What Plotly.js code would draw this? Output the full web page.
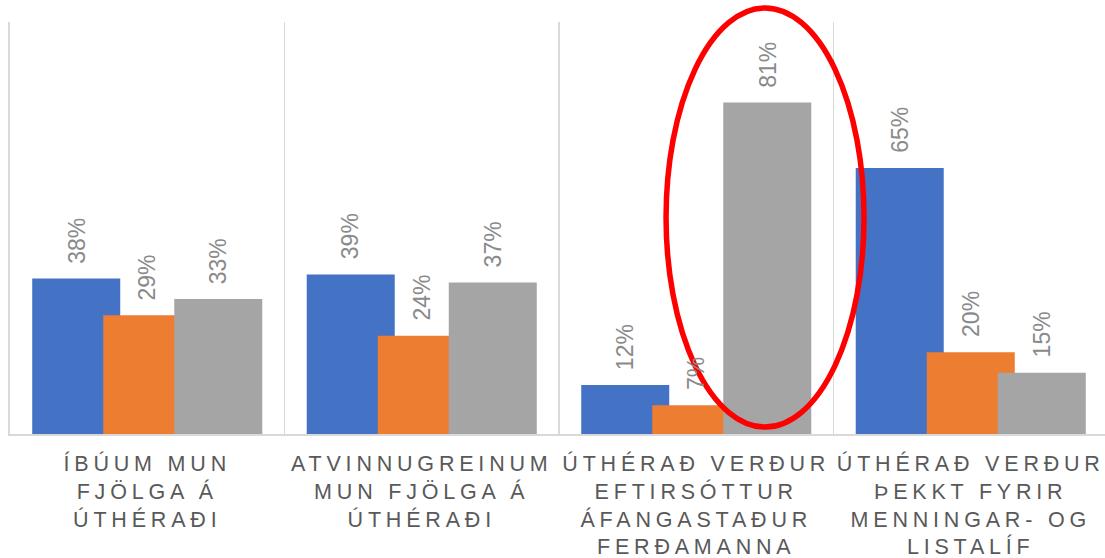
<!DOCTYPE html>
<html>
<head>
<meta charset="utf-8">
<script src="https://cdn.plot.ly/plotly-3.0.1.min.js"></script>
<style>
  html, body { margin: 0; padding: 0; background: #ffffff; overflow: hidden; }
  #chart { width: 1108px; height: 558px; }
  .xtick text { letter-spacing: 4.8px; }
</style>
</head>
<body>
<div id="chart"></div>
<script>
// ---- data ----
const categories = [
  "ÍBÚUM MUN<br>FJÖLGA Á<br>ÚTHÉRAÐI",
  "ATVINNUGREINUM<br>MUN FJÖLGA Á<br>ÚTHÉRAÐI",
  "ÚTHÉRAÐ VERÐUR<br>EFTIRSÓTTUR<br>ÁFANGASTAÐUR<br>FERÐAMANNA",
  "ÚTHÉRAÐ VERÐUR<br>ÞEKKT FYRIR<br>MENNINGAR- OG<br>LISTALÍF"
];
const seriesBlue = [38, 39, 12, 65];
const seriesOrange = [29, 24, 7, 20];
const seriesGray = [33, 37, 81, 15];

// ---- styling ----
const colors = ["#4472C4", "#ED7D31", "#A5A5A5"];
const allSeries = [seriesBlue, seriesOrange, seriesGray];
const barWidth = 0.3206;
const step = 0.2587;
const centers = [-step, 0, step];
const labelFont = { family: "Liberation Sans, Arial, sans-serif", size: 23, color: "#8a8a8a" };

const traces = allSeries.map((vals, i) => ({
  type: "bar",
  x: categories,
  y: vals,
  width: barWidth,
  offset: centers[i] - barWidth / 2,
  marker: { color: colors[i], line: { width: 0 } },
  hoverinfo: "skip",
  showlegend: false
}));

const annotations = [];
allSeries.forEach((vals, i) => {
  vals.forEach((v, j) => {
    annotations.push({
      x: j + centers[i],
      y: v,
      xref: "x",
      yref: "y",
      text: v + "%",
      textangle: -90,
      showarrow: false,
      xanchor: "center",
      yanchor: "bottom",
      yshift: 13,
      font: labelFont
    });
  });
});

const layout = {
  width: 1108,
  height: 558,
  margin: { l: 10, r: 0, t: 22, b: 124 },
  paper_bgcolor: "#ffffff",
  plot_bgcolor: "#ffffff",
  barmode: "overlay",
  showlegend: false,
  xaxis: {
    type: "category",
    range: [-0.5, 3.5],
    tickson: "boundaries",
    showgrid: true,
    gridcolor: "#d9d9d9",
    gridwidth: 1.8,
    showline: true,
    linecolor: "#d9d9d9",
    linewidth: 1.8,
    ticks: "",
    ticklabelstandoff: 9,
    tickfont: { family: "Liberation Sans, Arial, sans-serif", size: 21.5, color: "#595959" },
    tickangle: 0,
    fixedrange: true
  },
  yaxis: {
    range: [0, 100.7],
    showgrid: false,
    zeroline: false,
    showline: true,
    linecolor: "#d9d9d9",
    linewidth: 1.8,
    showticklabels: false,
    ticks: "",
    fixedrange: true
  },
  annotations: annotations,
  shapes: [{
    type: "circle",
    xref: "paper",
    yref: "paper",
    x0: 0.5975, x1: 0.7778,
    y0: 0.017, y1: 1.034,
    line: { color: "#ff0000", width: 5.5 },
    fillcolor: "rgba(0,0,0,0)",
    layer: "above"
  }]
};

Plotly.newPlot("chart", traces, layout, { displayModeBar: false, staticPlot: true });
</script>
</body>
</html>
